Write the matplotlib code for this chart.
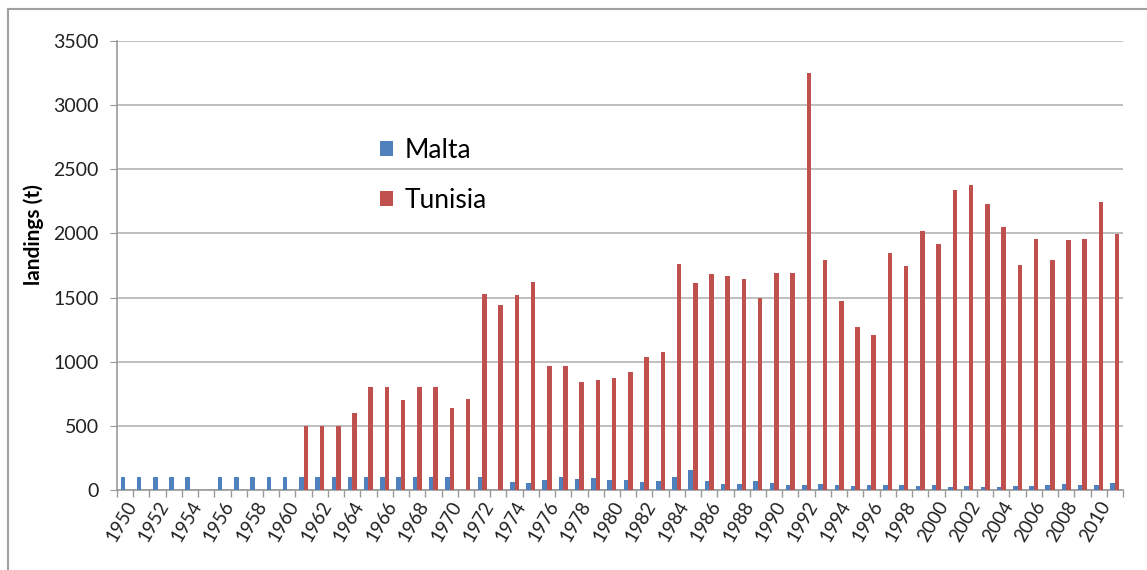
import matplotlib
matplotlib.use("Agg")
import matplotlib.pyplot as plt
from matplotlib.lines import Line2D
import numpy as np

years = list(range(1950, 2012))

malta = [100, 100, 100, 100, 100, 0, 100, 100, 100, 100,   # 1950-1959
         100, 100, 100, 100, 100, 100, 100, 100, 100, 100,   # 1960-1969
         100, 0, 100, 0, 65, 57, 75, 100, 85, 90,            # 1970-1979
         75, 80, 65, 68, 105, 158, 68, 50, 50, 68,           # 1980-1989
         57, 40, 40, 49, 39, 31, 42, 42, 42, 31,             # 1990-1999
         42, 21, 31, 21, 23, 31, 31, 42, 49, 39,             # 2000-2009
         39, 57]                                              # 2010-2011

tunisia = [0, 0, 0, 0, 0, 0, 0, 0, 0, 0,                     # 1950-1959
           0, 500, 500, 500, 600, 800, 800, 700, 800, 800,   # 1960-1969
           640, 710, 1525, 1440, 1520, 1620, 970, 970, 840, 855,   # 1970-1979
           875, 920, 1035, 1075, 1765, 1610, 1680, 1665, 1645, 1500,  # 1980-1989
           1690, 1690, 3250, 1790, 1470, 1270, 1205, 1845, 1750, 2020,  # 1990-1999
           1920, 2335, 2375, 2230, 2050, 1755, 1960, 1795, 1945, 1960,  # 2000-2009
           2245, 1995]                                       # 2010-2011

series_names = ["Malta", "Tunisia"]
colors = ["#4F81BD", "#C0504D"]
y_ticks = [0, 500, 1000, 1500, 2000, 2500, 3000, 3500]
x_labels = [str(y) if y % 2 == 0 else "" for y in years]

plt.rcParams['font.family'] = ['Lato', 'DejaVu Sans']

fig = plt.figure(figsize=(11.47, 5.70), dpi=100)
ax = fig.add_axes([117/1147, 1-490/570, (1123-117)/1147, (490-41)/570])

x = np.arange(len(years))
w = 0.28
ax.bar(x - w/2, malta, width=w, color=colors[0], label=series_names[0], zorder=3)
ax.bar(x + w/2, tunisia, width=w, color=colors[1], label=series_names[1], zorder=3)

ax.set_xlim(-0.5, len(years) - 0.5)
ax.set_ylim(0, 3500)
ax.set_yticks(y_ticks)
ax.set_yticklabels([str(v) for v in y_ticks], fontsize=14, color="#222222")
ax.yaxis.grid(True, color="#b4b4b4", linewidth=1.2, zorder=0)
ax.tick_params(axis='y', length=5, color="#999999", pad=8)

# category boundary ticks (no labels) and year labels at centres
ax.set_xticks(np.arange(-0.5, len(years), 1.0))
ax.set_xticklabels([])
ax.tick_params(axis='x', which='major', length=5, color="#999999", width=1)
ax.set_xticks(x, minor=True)
ax.set_xticklabels(x_labels, minor=True, rotation=60, ha='right',
                   rotation_mode='anchor', fontsize=13.5, color="#222222")
ax.tick_params(axis='x', which='minor', length=0, pad=6)

for s in ['top', 'right']:
    ax.spines[s].set_visible(False)
for s in ['left', 'bottom']:
    ax.spines[s].set_color("#999999")
    ax.spines[s].set_linewidth(1.2)

ax.set_ylabel("landings (t)", fontsize=15, fontweight='bold')
ax.yaxis.set_label_coords(-0.073, 0.57)

ax.legend(loc='upper left', bbox_to_anchor=(356/1147, 1-114/570),
          bbox_transform=fig.transFigure, frameon=False, fontsize=19,
          handlelength=0.5, handleheight=0.5, handletextpad=0.45,
          labelspacing=0.95)

# outer border
fig.add_artist(Line2D([8/1147, 8/1147], [0, 1-9/570], transform=fig.transFigure,
                      color="#a0a0a0", linewidth=1.5))
fig.add_artist(Line2D([8/1147, 1], [1-9/570, 1-9/570], transform=fig.transFigure,
                      color="#a0a0a0", linewidth=1.5))

fig.savefig("out.png", dpi=100)
